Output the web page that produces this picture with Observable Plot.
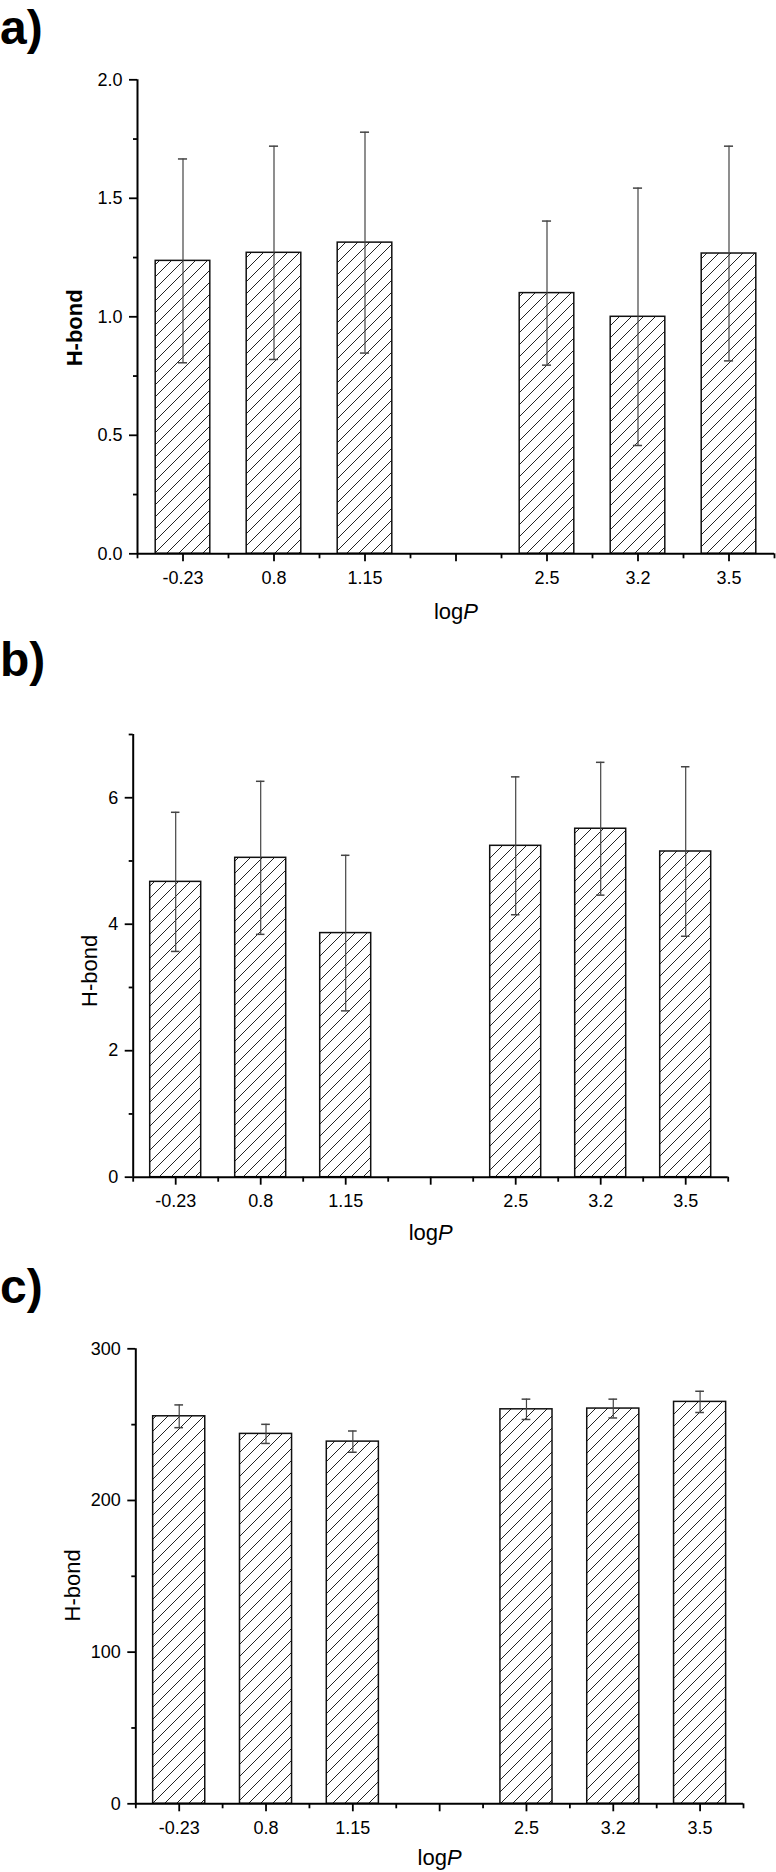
<!DOCTYPE html>
<html><head><meta charset="utf-8">
<script src="https://cdn.jsdelivr.net/npm/d3@7"></script>
<script src="https://cdn.jsdelivr.net/npm/@observablehq/plot@0.6"></script>
<style>
html,body{margin:0;padding:0;background:#fff;}
#wrap{position:relative;width:776px;height:1872px;overflow:hidden;background:#fff;font-family:Arial,"Liberation Sans",sans-serif;}
.lab{position:absolute;left:0;font-weight:bold;font-size:48px;line-height:1.15;color:#000;}
.panel{position:absolute;left:0;}
</style></head><body><div id="wrap"></div>
<script>
// ---- data ----
const xSlots = ["-0.23", "0.8", "1.15", "", "2.5", "3.2", "3.5"]; // x tick labels (one empty slot)
const categories = ["-0.23", "0.8", "1.15", "2.5", "3.2", "3.5"];
const meanA = [1.236, 1.27, 1.313, 1.10, 1.00, 1.267];
const errA  = [0.43, 0.45, 0.466, 0.304, 0.543, 0.453];
const meanB = [4.67, 5.05, 3.86, 5.24, 5.51, 5.15];
const errB  = [1.10, 1.21, 1.23, 1.09, 1.05, 1.34];
const meanC = [255.5, 243.9, 238.8, 260.1, 260.6, 265.0];
const errC  = [7.5, 6.3, 7.0, 6.7, 6.2, 7.0];
const yTicksA = [0, 0.5, 1.0, 1.5, 2.0], yMinorA = [0.25, 0.75, 1.25, 1.75];
const yTicksB = [0, 2, 4, 6], yMinorB = [1, 3, 5, 7];
const yTicksC = [0, 100, 200, 300], yMinorC = [50, 150, 250];
const panelLabels = ["a)", "b)", "c)"];
const yTitle = "H-bond";

const FONT = 'Arial, "Liberation Sans", sans-serif';
const wrap = document.getElementById("wrap");
const BAR_HALF = 0.3, CAP = 0.05;

function addPattern(svg, id) {
  const ns = "http://www.w3.org/2000/svg";
  const defs = document.createElementNS(ns, "defs");
  const p = document.createElementNS(ns, "pattern");
  p.setAttribute("id", id);
  p.setAttribute("patternUnits", "userSpaceOnUse");
  p.setAttribute("width", "12");
  p.setAttribute("height", "12");
  const bg = document.createElementNS(ns, "rect");
  bg.setAttribute("width", "12"); bg.setAttribute("height", "12"); bg.setAttribute("fill", "#fff");
  p.appendChild(bg);
  const path = document.createElementNS(ns, "path");
  path.setAttribute("d", "M-3,3 l6,-6 M0,12 l12,-12 M9,15 l6,-6");
  path.setAttribute("stroke", "#222");
  path.setAttribute("stroke-width", "1");
  p.appendChild(path);
  defs.appendChild(p);
  svg.insertBefore(defs, svg.firstChild);
}

function panel(o) {
  const data = categories.map((c, i) => ({pos: xSlots.indexOf(c) + 1, v: o.mean[i], e: o.err[i]}));
  const positions = xSlots.map((_, i) => i + 1);
  const minorX = d3.range(0.5, xSlots.length + 1, 1);
  const svg = Plot.plot({
    width: 776, height: o.height,
    marginTop: o.mt, marginBottom: o.mb, marginLeft: o.ml, marginRight: o.mr,
    style: {fontFamily: FONT, fontSize: "18px", background: "transparent", overflow: "visible", color: "#000"},
    x: {domain: [0.5, xSlots.length + 0.5]},
    y: {domain: o.yDomain},
    marks: [
      Plot.rect(data, {x1: d => d.pos - BAR_HALF, x2: d => d.pos + BAR_HALF, y1: 0, y2: "v",
        fill: `url(#${o.id})`, stroke: "#111", strokeWidth: 1.5}),
      Plot.ruleX(data, {x: "pos", y1: d => d.v - d.e, y2: d => d.v + d.e, stroke: "#444", strokeWidth: 1.2}),
      Plot.ruleY(data, {x1: d => d.pos - CAP, x2: d => d.pos + CAP, y: d => d.v + d.e, stroke: "#444", strokeWidth: 1.5}),
      Plot.ruleY(data, {x1: d => d.pos - CAP, x2: d => d.pos + CAP, y: d => d.v - d.e, stroke: "#444", strokeWidth: 1.5}),
      Plot.ruleX([0.5], {stroke: "#000", strokeWidth: 2}),
      Plot.ruleY([o.yDomain[0]], {stroke: "#000", strokeWidth: 2}),
      Plot.axisY({ticks: o.yTicks, tickSize: 8, tickPadding: 7, tickFormat: o.fmt, label: null, strokeWidth: 1.8, fontSize: 18}),
      Plot.axisY({ticks: o.yMinor, tickSize: 4, tickFormat: () => "", label: null, strokeWidth: 1.8}),
      Plot.axisX({ticks: positions, tickSize: 8, tickPadding: 9, tickFormat: p => xSlots[p - 1], label: null, strokeWidth: 1.8, fontSize: 18}),
      Plot.axisX({ticks: minorX, tickSize: 5, tickFormat: () => "", label: null, strokeWidth: 1.8}),
      Plot.text([yTitle], {frameAnchor: "left", rotate: -90, dx: o.ytDx, dy: o.ytDy, fontSize: 22,
        fontWeight: o.ytBold ? "bold" : "normal", textAnchor: "middle", lineAnchor: "middle"}),
      Plot.text(["log"], {frameAnchor: "bottom", dy: o.xtDy, dx: 7.3, textAnchor: "end", lineAnchor: "middle", fontSize: 22}),
      Plot.text(["P"], {frameAnchor: "bottom", dy: o.xtDy, dx: 7.3, textAnchor: "start", lineAnchor: "middle", fontSize: 22, fontStyle: "italic"})
    ]
  });
  addPattern(svg, o.id);
  svg.classList.add("panel");
  svg.style.position = "absolute";
  svg.style.left = "0px";
  svg.style.top = o.top + "px";
  wrap.appendChild(svg);
}

const labelTops = [0, 632, 1259];
panelLabels.forEach((t, i) => {
  const d = document.createElement("div");
  d.className = "lab";
  d.textContent = t;
  d.style.top = labelTops[i] + "px";
  wrap.appendChild(d);
});

panel({id: "hatchA", mean: meanA, err: errA, yDomain: [0, 2], yTicks: yTicksA, yMinor: yMinorA, fmt: d3.format(".1f"),
  top: 60, height: 580, mt: 19.3, mb: 86.7, ml: 137, mr: 2, ytDx: -63, ytDy: 11, ytBold: true, xtDy: 58});
panel({id: "hatchB", mean: meanB, err: errB, yDomain: [0, 7], yTicks: yTicksB, yMinor: yMinorB, fmt: d3.format("d"),
  top: 700, height: 560, mt: 34, mb: 83.3, ml: 132.7, mr: 48.3, ytDx: -43, ytDy: 15, ytBold: false, xtDy: 56});
panel({id: "hatchC", mean: meanC, err: errC, yDomain: [0, 300], yTicks: yTicksC, yMinor: yMinorC, fmt: d3.format("d"),
  top: 1320, height: 552, mt: 28.3, mb: 68.7, ml: 135.3, mr: 33, ytDx: -63, ytDy: 9, ytBold: false, xtDy: 54});
</script></body></html>
